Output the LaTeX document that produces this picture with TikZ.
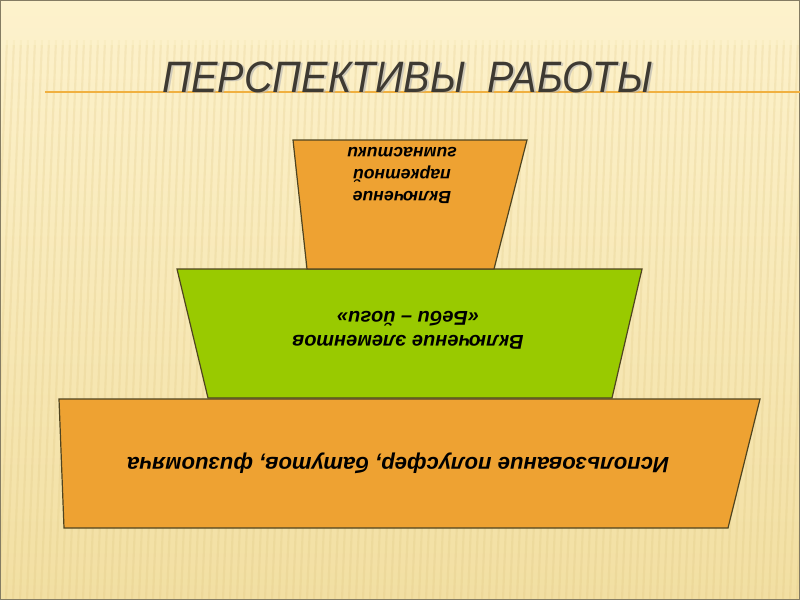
\documentclass[tikz,border=0pt]{standalone}
\usepackage{fontspec}
\setmainfont{Liberation Sans}
\definecolor{bgtop}{HTML}{FDF2CC}
\definecolor{bgbot}{HTML}{F2DFA2}
\definecolor{stripec}{HTML}{D9BF78}
\definecolor{boxorange}{HTML}{EEA232}
\definecolor{boxgreen}{HTML}{99CA00}
\definecolor{boxline}{HTML}{4F4420}
\definecolor{titlec}{HTML}{3E3A32}
\definecolor{rulec}{HTML}{F0B040}
\tikzset{
  stripe/.style={stripec, line width=1.6pt, opacity=0.2},
  tier/.style={draw=boxline, line width=0.9pt, line join=miter},
  tiertext/.style={rotate=180, align=center, font=\bfseries\itshape, text=black, inner sep=0pt},
  titletext/.style={font=\itshape\fontsize{33}{38}\selectfont, inner sep=0pt, anchor=base},
}
\begin{document}
\begin{tikzpicture}[x=0.75pt,y=-0.75pt]
\useasboundingbox (0,0) rectangle (800,600);
% background
\shade[top color=bgtop, bottom color=bgbot] (0,0) rectangle (800,600);
\begin{scope}
\clip (0,40) rectangle (800,600);
\foreach \i in {0,7,...,840} {
  \draw[stripe] (\i,40) -- (\i-22,600);
}
\end{scope}
\fill[bgtop, opacity=0.55] (0,0) rectangle (800,45);
\draw[boxline!70, line width=1.2pt] (0,0) rectangle (800,600);
% title rule and title
\draw[rulec, line width=1.6pt] (45,92) -- (800,92);
\node[titletext, text=gray!60, opacity=0.6] (tshadow) at (409.5,93.5) {\scalebox{0.9}[1]{ПЕРСПЕКТИВЫ\ \ РАБОТЫ}};
\node[titletext, text=titlec] (title) at (407.5,92) {\scalebox{0.9}[1]{ПЕРСПЕКТИВЫ\ \ РАБОТЫ}};
% tiers
\filldraw[tier, fill=boxorange] (59,399) -- (760,399) -- (728,528) -- (64,528) -- cycle;
\filldraw[tier, fill=boxgreen] (177,269) -- (642,269) -- (612,398) -- (208,398) -- cycle;
\filldraw[tier, fill=boxorange] (293,140) -- (527,140) -- (494,269) -- (307,269) -- cycle;
% texts (upside down)
\node[tiertext, font=\bfseries\itshape\fontsize{13.2}{16.5}\selectfont] (t3) at (402,175) {Включение\\паркетной\\гимнастики};
\node[tiertext, font=\bfseries\itshape\fontsize{15}{18}\selectfont] (t2) at (408,330) {Включение элементов\\«Беби – йоги»};
\node[tiertext, font=\bfseries\itshape\fontsize{16.6}{20}\selectfont] (t1) at (398,463) {Использование полусфер, батутов, физиомяча};
\end{tikzpicture}
\end{document}
